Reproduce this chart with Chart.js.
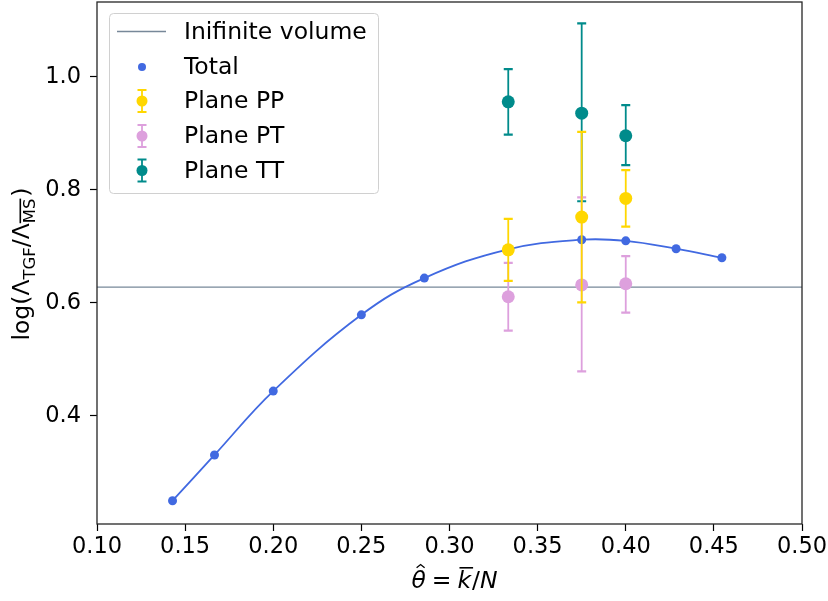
<!DOCTYPE html>
<html>
<head>
<meta charset="utf-8">
<script src="https://cdn.jsdelivr.net/npm/chart.js@4/dist/chart.umd.min.js"></script>
<style>
  html, body { margin: 0; padding: 0; background: #fff; }
  #wrap { width: 828px; height: 601px; }
</style>
</head>
<body>
<div id="wrap"><canvas id="chart"></canvas></div>
<script>
// theta = k/N for the full lattice average
const THETA = [1/7, 1/6, 0.2, 0.25, 2/7, 1/3, 0.375, 0.4, 3/7, 5/11];
const TOTAL = [0.250, 0.331, 0.444, 0.579, 0.644, 0.695, 0.712, 0.710, 0.696, 0.680];

// per-plane values with lower / upper error limits
const PLANE_THETA = [1/3, 0.375, 0.4];
const PP = [0.694, 0.752, 0.785];
const PP_LO = [0.639, 0.601, 0.735];
const PP_HI = [0.749, 0.903, 0.835];
const PT = [0.611, 0.632, 0.634];
const PT_LO = [0.551, 0.479, 0.583];
const PT_HI = [0.671, 0.787, 0.683];
const TT = [0.956, 0.936, 0.896];
const TT_LO = [0.898, 0.780, 0.844];
const TT_HI = [1.014, 1.095, 0.950];

const INFINITE_VOLUME = 0.628;

const X_TICKS = [0.10, 0.15, 0.20, 0.25, 0.30, 0.35, 0.40, 0.45, 0.50];
const Y_TICKS = [0.4, 0.6, 0.8, 1.0];

const FONT = 'DejaVu Sans';
const TICK_FS = 22.5;
const FS = 23.5;

const points = (xs, ys) => xs.map((x, i) => ({ x: x, y: ys[i] }));

function errorSet(label, ys, lo, hi, color, order) {
  return {
    label: label,
    data: points(PLANE_THETA, ys),
    errLo: lo,
    errHi: hi,
    showLine: false,
    pointRadius: 6.5,
    pointHoverRadius: 6.5,
    pointBorderWidth: 0,
    backgroundColor: color,
    borderColor: color,
    order: order
  };
}

function drawErrorGlyph(ctx, x, top, bot, color) {
  ctx.strokeStyle = color;
  ctx.lineWidth = 1.8;
  ctx.beginPath();
  ctx.moveTo(x, top);
  ctx.lineTo(x, bot);
  ctx.stroke();
  ctx.lineWidth = 2.2;
  ctx.beginPath();
  ctx.moveTo(x - 4.5, top);
  ctx.lineTo(x + 4.5, top);
  ctx.moveTo(x - 4.5, bot);
  ctx.lineTo(x + 4.5, bot);
  ctx.stroke();
}

// vertical bars with caps, drawn just under each plane's markers
const errorBars = {
  id: 'errorBars',
  beforeDatasetDraw(chart, args) {
    const ds = chart.data.datasets[args.index];
    if (!ds.errLo) return;
    const ctx = chart.ctx;
    const xs = chart.scales.x, ys = chart.scales.y;
    ctx.save();
    ds.data.forEach((p, i) => {
      const px = xs.getPixelForValue(p.x);
      drawErrorGlyph(ctx, px, ys.getPixelForValue(ds.errHi[i]), ys.getPixelForValue(ds.errLo[i]), ds.borderColor);
    });
    ctx.restore();
  }
};

// box around the plot area
const frame = {
  id: 'frame',
  afterDatasetsDraw(chart) {
    const { left, right, top, bottom } = chart.chartArea;
    const ctx = chart.ctx;
    ctx.save();
    ctx.strokeStyle = '#262626';
    ctx.lineWidth = 1.3;
    ctx.strokeRect(left, top, right - left, bottom - top);
    ctx.restore();
  }
};

// text runs: sub = subscript, over = overline, hat = circumflex, it = italic
function runFont(r) {
  const size = r.sub ? FS * 0.7 : FS;
  return (r.it ? 'oblique ' : '') + size + 'px "' + FONT + '"';
}

function runsWidth(ctx, runs) {
  let w = 0;
  runs.forEach(r => { ctx.font = runFont(r); w += ctx.measureText(r.t).width + (r.gap || 0); });
  return w;
}

function drawRuns(ctx, runs, x, y) {
  ctx.textBaseline = 'alphabetic';
  ctx.textAlign = 'left';
  ctx.fillStyle = '#000';
  ctx.strokeStyle = '#000';
  runs.forEach(r => {
    ctx.font = runFont(r);
    const w = ctx.measureText(r.t).width;
    const by = y + (r.sub ? FS * 0.25 : 0);
    ctx.fillText(r.t, x, by);
    if (r.over) {
      ctx.lineWidth = 1.6;
      ctx.beginPath();
      const oy = by - (r.sub ? FS * 0.62 : FS * 0.86);
      ctx.moveTo(x + (r.it ? 2 : 0), oy);
      ctx.lineTo(x + w + (r.it ? 2 : 0), oy);
      ctx.stroke();
    }
    if (r.hat) {
      ctx.lineWidth = 1.3;
      ctx.beginPath();
      const cx = x + w / 2 + 2;
      ctx.moveTo(cx - 4, by - FS * 0.86);
      ctx.lineTo(cx, by - FS * 1.0);
      ctx.lineTo(cx + 4, by - FS * 0.86);
      ctx.stroke();
    }
    x += w + (r.gap || 0);
  });
}

const Y_TITLE = [
  { t: 'log(' }, { t: '\u039b' }, { t: 'TGF', sub: true },
  { t: '/' }, { t: '\u039b' }, { t: 'MS', sub: true, over: true, gap: 2 }, { t: ')' }
];
const X_TITLE = [
  { t: '\u03b8', it: true, hat: true, gap: 6 }, { t: '=', gap: 6 },
  { t: 'k', it: true, over: true, gap: 1 }, { t: '/' }, { t: 'N', it: true }
];

const axisTitles = {
  id: 'axisTitles',
  afterDraw(chart) {
    const ctx = chart.ctx;
    const { left, right, top, bottom } = chart.chartArea;
    ctx.save();
    const xw = runsWidth(ctx, X_TITLE);
    drawRuns(ctx, X_TITLE, (left + right) / 2 + 5 - xw / 2, 588);
    ctx.translate(29, (top + bottom) / 2 + 1);
    ctx.rotate(-Math.PI / 2);
    const yw = runsWidth(ctx, Y_TITLE);
    drawRuns(ctx, Y_TITLE, -yw / 2, 0);
    ctx.restore();
  }
};

// legend box in the upper left corner of the axes
const legendBox = {
  id: 'legendBox',
  afterDraw(chart) {
    const ctx = chart.ctx;
    const sets = chart.data.datasets;
    ctx.save();
    const bx = 109, by = 13, bw = 269, bh = 180;
    ctx.fillStyle = 'rgba(255,255,255,0.8)';
    ctx.strokeStyle = '#d0d0d0';
    ctx.lineWidth = 1;
    ctx.beginPath();
    ctx.roundRect(bx + 0.5, by + 0.5, bw, bh, 4);
    ctx.fill();
    ctx.stroke();
    const rowY = [31.5, 67, 101, 136, 170.5];
    const mx = 142;
    sets.forEach((ds, i) => {
      const y = rowY[i];
      if (i === 0) {
        ctx.strokeStyle = ds.borderColor;
        ctx.lineWidth = ds.borderWidth;
        ctx.beginPath();
        ctx.moveTo(117, y);
        ctx.lineTo(166, y);
        ctx.stroke();
      } else if (!ds.errLo) {
        ctx.fillStyle = ds.backgroundColor;
        ctx.beginPath();
        ctx.arc(mx, y, 4, 0, Math.PI * 2);
        ctx.fill();
      } else {
        drawErrorGlyph(ctx, mx, y - 11, y + 11, ds.borderColor);
        ctx.fillStyle = ds.backgroundColor;
        ctx.beginPath();
        ctx.arc(mx, y, 5.5, 0, Math.PI * 2);
        ctx.fill();
      }
      ctx.fillStyle = '#000';
      ctx.font = FS + 'px "' + FONT + '"';
      ctx.textBaseline = 'middle';
      ctx.textAlign = 'left';
      ctx.fillText(ds.label, 184, y + 1);
    });
    ctx.restore();
  }
};

const config = {
  type: 'scatter',
  data: {
    datasets: [
      {
        label: 'Inifinite volume',
        data: [{ x: 0.1, y: INFINITE_VOLUME }, { x: 0.5, y: INFINITE_VOLUME }],
        showLine: true,
        borderColor: '#778899',
        borderWidth: 1.3,
        pointRadius: 0,
        order: 6
      },
      {
        label: 'Total',
        data: points(THETA, TOTAL),
        showLine: true,
        tension: 0.4,
        borderColor: '#4169e1',
        backgroundColor: '#4169e1',
        borderWidth: 1.8,
        pointRadius: 4.5,
        pointHoverRadius: 4.5,
        pointBorderWidth: 0,
        order: 2
      },
      errorSet('Plane PP', PP, PP_LO, PP_HI, '#ffd700', 1),
      errorSet('Plane PT', PT, PT_LO, PT_HI, '#dda0dd', 3),
      errorSet('Plane TT', TT, TT_LO, TT_HI, '#008b8b', 4)
    ]
  },
  options: {
    responsive: true,
    maintainAspectRatio: false,
    animation: false,
    layout: { autoPadding: false, padding: { top: 2, right: 26, bottom: 0, left: 0 } },
    plugins: {
      legend: { display: false },
      tooltip: { enabled: false }
    },
    scales: {
      x: {
        type: 'linear',
        min: 0.1,
        max: 0.5,
        afterBuildTicks: s => { s.ticks = X_TICKS.map(v => ({ value: v })); },
        afterFit: s => { s.height = 77; s.paddingLeft = 0; s.paddingRight = 0; },
        ticks: {
          callback: v => v.toFixed(2),
          font: { family: FONT, size: TICK_FS },
          color: '#000',
          padding: 3,
          maxRotation: 0,
          autoSkip: false
        },
        grid: { drawOnChartArea: false, tickLength: 7, tickColor: '#000', tickWidth: 1.2 },
        border: { display: false }
      },
      y: {
        type: 'linear',
        min: 0.2088,
        max: 1.1327,
        afterBuildTicks: s => { s.ticks = Y_TICKS.map(v => ({ value: v })); },
        afterFit: s => { s.width = 97; s.paddingTop = 0; s.paddingBottom = 0; },
        ticks: {
          callback: v => v.toFixed(1),
          font: { family: FONT, size: TICK_FS },
          color: '#000',
          padding: 9
        },
        grid: { drawOnChartArea: false, tickLength: 7, tickColor: '#000', tickWidth: 1.2 },
        border: { display: false }
      }
    }
  },
  plugins: [errorBars, frame, axisTitles, legendBox]
};

new Chart(document.getElementById('chart'), config);
</script>
</body>
</html>
